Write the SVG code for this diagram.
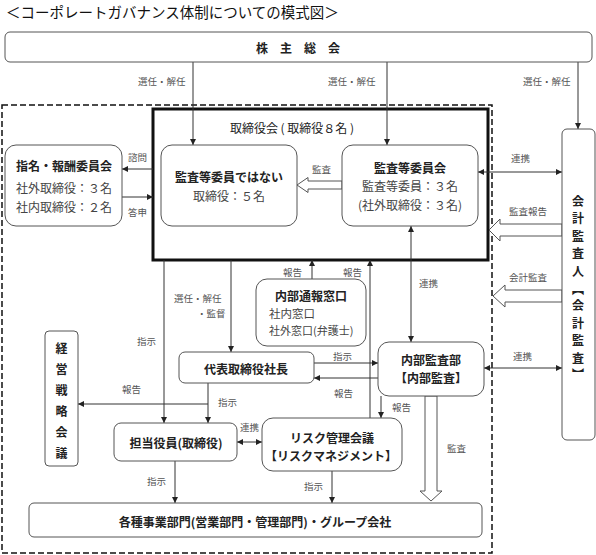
<svg xmlns="http://www.w3.org/2000/svg" width="596" height="555" viewBox="0 0 596 555">
<defs>
<marker id="ah" viewBox="0 0 10 10" refX="10" refY="5" markerWidth="6" markerHeight="6" markerUnits="userSpaceOnUse" orient="auto-start-reverse"><path d="M0,0 L10,5 L0,10 z" fill="#222"/></marker>
</defs>
<style>
text{font-family:'Noto Sans CJK JP','Noto Sans CJK SC',sans-serif;dominant-baseline:central}
.node rect{fill:#fff;stroke:#555;stroke-width:1}
.t{font-size:12px;font-weight:bold;fill:#222;text-anchor:middle}
.s{font-size:12px;fill:#444;text-anchor:middle}
.lbl{font-size:9.5px;fill:#555}
.c line{stroke:#333;stroke-width:1;fill:none}
.arr{marker-end:url(#ah)}
.dbl{marker-start:url(#ah);marker-end:url(#ah)}
.block{fill:#fff;stroke:#555;stroke-width:1}
</style>
<rect width="596" height="555" fill="#fff"/>
<text x="6" y="11" style="font-size:14.5px;fill:#111">＜コーポレートガバナンス体制についての模式図＞</text>

<!-- frames -->
<rect id="group-frame" x="2" y="105" width="490" height="448" fill="none" stroke="#111" stroke-width="1.5" stroke-dasharray="6 3"/>
<g id="board">
<rect x="153" y="109" width="335" height="151" fill="none" stroke="#111" stroke-width="3"/>
<text x="292" y="127" class="t" style="font-weight:normal;fill:#222">取締役会 ( 取締役８名 )</text>
</g>

<!-- connectors -->
<g id="connectors" class="c">
<line class="arr" x1="193" y1="62" x2="193" y2="145"/>
<line class="arr" x1="387" y1="62" x2="387" y2="145"/>
<line class="arr" x1="578" y1="62" x2="578" y2="129"/>
<line class="arr" x1="153" y1="169" x2="122" y2="169"/>
<line class="arr" x1="122" y1="197" x2="153" y2="197"/>
<line class="dbl" x1="478" y1="172" x2="562" y2="172"/>
<line class="dbl" x1="484" y1="368" x2="562" y2="368"/>
<line class="dbl" x1="411" y1="226" x2="411" y2="342"/>
<line class="arr" x1="312" y1="279" x2="312" y2="260"/>
<line class="arr" x1="370" y1="418" x2="370" y2="260"/>
<line class="arr" x1="231" y1="260" x2="231" y2="352"/>
<line class="arr" x1="164" y1="260" x2="164" y2="423"/>
<line class="arr" x1="208" y1="383" x2="208" y2="423"/>
<line class="arr" x1="208" y1="404" x2="78" y2="404"/>
<line class="arr" x1="314" y1="363" x2="378" y2="363"/>
<line class="arr" x1="378" y1="378" x2="314" y2="378"/>
<line class="arr" x1="381" y1="396" x2="381" y2="418"/>
<line class="dbl" x1="237" y1="442" x2="262" y2="442"/>
<line class="arr" x1="175" y1="461" x2="175" y2="503"/>
<line class="arr" x1="332" y1="471" x2="332" y2="503"/>
<polygon class="block" points="297,185 308,177.5 308,181 342,181 342,189 308,189 308,192.5"/>
<polygon class="block" points="489,230 500,219 500,224 562,224 562,236 500,236 500,241"/>
<polygon class="block" points="493,296 505,285 505,290 562,290 562,302 505,302 505,307"/>
<polygon class="block" points="431,501 420,491 425,491 425,396 437,396 437,491 442,491"/>
</g>

<!-- labels -->
<g id="labels" class="lbl">
<text class="lbl" x="138" y="81">選任・解任</text>
<text class="lbl" x="328" y="81">選任・解任</text>
<text class="lbl" x="523" y="81">選任・解任</text>
<text class="lbl" x="128" y="157">諮問</text>
<text class="lbl" x="128" y="212">答申</text>
<text class="lbl" x="312" y="169">監査</text>
<text class="lbl" x="511" y="158">連携</text>
<text class="lbl" x="509" y="211">監査報告</text>
<text class="lbl" x="509" y="277">会計監査</text>
<text class="lbl" x="513" y="356">連携</text>
<text class="lbl" x="419" y="283">連携</text>
<text class="lbl" x="283" y="272">報告</text>
<text class="lbl" x="343" y="272">報告</text>
<text class="lbl" x="174" y="297.5">選任・解任</text>
<text class="lbl" x="197" y="312.5">・監督</text>
<text class="lbl" x="137" y="341">指示</text>
<text class="lbl" x="333" y="356">指示</text>
<text class="lbl" x="334" y="393">報告</text>
<text class="lbl" x="122" y="389">報告</text>
<text class="lbl" x="218" y="402">指示</text>
<text class="lbl" x="240" y="427">連携</text>
<text class="lbl" x="392" y="407">報告</text>
<text class="lbl" x="147" y="481">指示</text>
<text class="lbl" x="304" y="486">指示</text>
<text class="lbl" x="447" y="448">監査</text>
</g>

<!-- nodes -->
<g id="shareholders" class="node">
<rect x="5" y="32" width="587" height="30" rx="5"/>
<text x="298" y="47" class="t">株　主　総　会</text>
</g>
<g id="nomination" class="node">
<rect x="5" y="145" width="117" height="81" rx="11"/>
<text x="64" y="165" class="t">指名・報酬委員会</text>
<text x="64" y="187" class="s">社外取締役：３名</text>
<text x="64" y="206" class="s">社内取締役：２名</text>
</g>
<g id="non-audit-directors" class="node">
<rect x="161" y="145" width="136" height="81" rx="11"/>
<text x="229" y="176" class="t">監査等委員ではない</text>
<text x="229" y="195" class="s">取締役：５名</text>
</g>
<g id="audit-committee" class="node">
<rect x="342" y="145" width="136" height="81" rx="11"/>
<text x="410" y="167" class="t">監査等委員会</text>
<text x="410" y="185" class="s">監査等委員：３名</text>
<text x="410" y="204" class="s">(社外取締役：３名)</text>
</g>
<g id="accounting-auditor" class="node">
<rect x="562" y="129" width="33" height="311" rx="5"/>
<text class="t"><tspan x="578" y="200">会</tspan><tspan x="578" y="217.4">計</tspan><tspan x="578" y="234.8">監</tspan><tspan x="578" y="252.2">査</tspan><tspan x="578" y="269.6">人</tspan><tspan x="578" y="288">︻</tspan><tspan x="578" y="304.4">会</tspan><tspan x="578" y="321.8">計</tspan><tspan x="578" y="339.2">監</tspan><tspan x="578" y="356.6">査</tspan><tspan x="578" y="373">︼</tspan></text>
</g>
<g id="whistleblowing" class="node">
<rect x="256" y="279" width="110" height="67" rx="11"/>
<text x="311" y="295" class="t">内部通報窓口</text>
<text x="269" y="313" class="s" style="text-anchor:start;font-size:11.5px">社内窓口</text>
<text x="269" y="330" class="s" style="text-anchor:start;font-size:11px">社外窓口(弁護士)</text>
</g>
<g id="president" class="node">
<rect x="179" y="352" width="135" height="31" rx="6"/>
<text x="246" y="368" class="t">代表取締役社長</text>
</g>
<g id="internal-audit" class="node">
<rect x="378" y="342" width="106" height="54" rx="11"/>
<text x="431" y="359" class="t">内部監査部</text>
<text x="431" y="377" class="t">【内部監査】</text>
</g>
<g id="strategy-meeting" class="node">
<rect x="45" y="331" width="33" height="135" rx="4"/>
<text class="t"><tspan x="61.5" y="347">経</tspan><tspan x="61.5" y="368">営</tspan><tspan x="61.5" y="389">戦</tspan><tspan x="61.5" y="410">略</tspan><tspan x="61.5" y="431">会</tspan><tspan x="61.5" y="452">議</tspan></text>
</g>
<g id="officers" class="node">
<rect x="114" y="423" width="123" height="38" rx="7"/>
<text x="176" y="442" class="t">担当役員(取締役)</text>
</g>
<g id="risk-committee" class="node">
<rect x="262" y="418" width="140" height="53" rx="11"/>
<text x="332" y="437" class="t">リスク管理会議</text>
<text x="331" y="455" class="t">【リスクマネジメント】</text>
</g>
<g id="business-units" class="node">
<rect x="29" y="503" width="453" height="34" rx="5"/>
<text x="255" y="521" class="t">各種事業部門(営業部門・管理部門)・グループ会社</text>
</g>
</svg>
